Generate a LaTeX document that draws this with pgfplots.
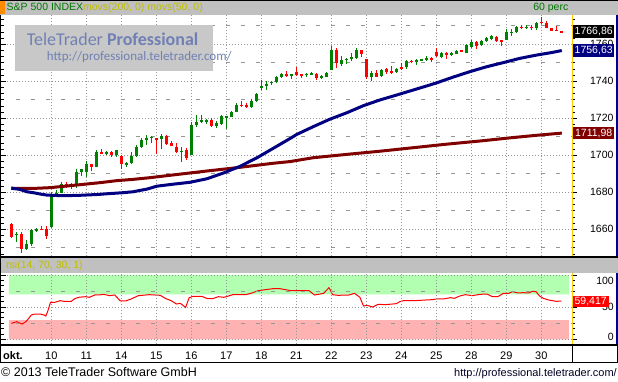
\documentclass[border=0pt]{standalone}
\usepackage{pgfplots}
\pgfplotsset{compat=1.18}
\usepackage{pgfplotstable}
\usepackage{fontspec}
\setmainfont{Liberation Sans}
\newfontfamily\wmfont{Carlito}

\definecolor{upc}{RGB}{0,128,0}
\definecolor{dnc}{RGB}{255,0,0}
\definecolor{maA}{RGB}{0,0,128}
\definecolor{maB}{RGB}{128,0,0}
\definecolor{barbg}{RGB}{192,192,192}
\definecolor{titlegreen}{RGB}{0,120,0}
\definecolor{olivet}{RGB}{190,190,0}
\definecolor{gridc}{RGB}{150,150,150}
\definecolor{wmtext}{RGB}{112,128,180}
\definecolor{wmbox}{RGB}{200,200,200}
\definecolor{rsigreen}{RGB}{178,255,178}
\definecolor{rsired}{RGB}{255,178,178}
\definecolor{sepyellow}{RGB}{255,204,0}
\definecolor{edgeblue}{RGB}{0,0,150}
\definecolor{orangetab}{RGB}{255,140,0}

% hourly OHLC bars, index 0 = last bar of 8 Oct, 8 = first bar of 10 Oct
\pgfplotstableread{
i o h l c
0 1662.9 1663.4 1655.5 1656.0
1 1657.0 1658.5 1653.3 1657.5
2 1657.4 1658.3 1647.0 1649.1
3 1649.1 1654.1 1648.7 1651.9
4 1651.9 1660.0 1651.0 1659.5
5 1659.5 1660.9 1658.5 1660.0
6 1660.2 1662.0 1659.6 1659.8
7 1660.0 1662.0 1654.6 1656.4
8 1661.4 1680.0 1660.9 1678.9
9 1679.2 1681.2 1677.3 1679.6
10 1679.8 1685.8 1679.4 1684.7
11 1684.7 1685.8 1682.1 1683.0
12 1684.0 1685.3 1682.0 1683.6
13 1683.8 1692.6 1682.5 1691.0
14 1691.0 1692.8 1689.0 1692.6
15 1691.0 1697.0 1688.4 1695.5
16 1695.3 1695.5 1691.7 1693.8
17 1693.8 1702.9 1693.6 1701.6
18 1701.8 1703.2 1700.5 1700.7
19 1700.8 1702.5 1700.3 1701.6
20 1701.8 1702.5 1698.9 1700.0
21 1700.3 1703.0 1698.9 1702.9
22 1699.8 1700.0 1692.4 1695.3
23 1695.3 1696.5 1693.8 1695.7
24 1696.0 1701.6 1695.5 1699.8
25 1699.8 1705.6 1699.3 1704.5
26 1704.5 1709.4 1703.8 1708.3
27 1708.6 1711.0 1705.6 1709.2
28 1709.6 1710.4 1706.8 1709.9
29 1709.2 1709.3 1700.7 1708.6
30 1708.8 1711.5 1703.6 1710.4
31 1710.4 1710.8 1705.7 1706.1
32 1706.5 1707.7 1705.0 1705.2
33 1704.3 1706.6 1701.4 1702.0
34 1701.8 1704.3 1696.2 1702.4
35 1702.9 1703.8 1697.6 1698.4
36 1700.2 1718.2 1700.0 1716.4
37 1716.2 1721.8 1715.5 1718.0
38 1718.0 1721.8 1717.3 1719.1
39 1718.6 1719.6 1717.0 1718.9
40 1719.1 1720.0 1715.5 1716.0
41 1716.0 1718.5 1714.9 1717.6
42 1716.9 1721.8 1716.4 1721.2
43 1720.8 1721.5 1714.2 1721.1
44 1720.9 1724.0 1720.5 1723.6
45 1723.6 1728.1 1723.2 1727.2
46 1727.2 1729.4 1726.3 1726.8
47 1727.0 1728.1 1725.4 1726.4
48 1726.3 1730.2 1725.7 1729.5
49 1729.2 1733.8 1728.6 1733.3
50 1736.2 1740.7 1735.3 1737.6
51 1737.6 1740.3 1735.3 1738.8
52 1739.2 1740.3 1738.0 1739.6
53 1739.6 1742.8 1739.2 1742.1
54 1742.1 1744.3 1741.9 1743.9
55 1743.9 1745.4 1742.1 1742.8
56 1742.9 1743.9 1741.2 1743.8
57 1745.2 1747.9 1743.0 1743.4
58 1743.6 1743.8 1741.6 1743.3
59 1743.6 1744.5 1742.5 1743.9
60 1744.1 1745.0 1743.8 1744.3
61 1743.9 1744.3 1740.7 1741.6
62 1741.6 1743.4 1741.0 1742.9
63 1742.5 1744.9 1742.1 1744.5
64 1746.1 1759.1 1746.0 1756.9
65 1756.9 1757.8 1747.4 1749.7
66 1749.2 1753.7 1748.3 1751.5
67 1751.8 1752.8 1749.4 1752.2
68 1752.0 1755.5 1751.1 1752.9
69 1752.4 1758.2 1752.0 1756.9
70 1756.9 1757.0 1753.3 1754.6
71 1752.1 1752.2 1741.0 1742.5
72 1742.3 1745.6 1740.2 1744.5
73 1744.3 1746.1 1742.1 1742.5
74 1743.0 1746.6 1742.5 1746.1
75 1746.5 1747.0 1743.9 1745.2
76 1745.2 1748.5 1743.9 1744.9
77 1744.9 1747.0 1744.5 1746.5
78 1747.6 1750.1 1746.1 1746.7
79 1747.6 1751.5 1746.7 1751.2
80 1751.2 1751.3 1750.0 1750.4
81 1750.7 1752.3 1748.8 1751.7
82 1751.5 1752.3 1750.8 1751.8
83 1751.5 1753.9 1750.8 1752.8
84 1752.8 1753.3 1750.6 1751.7
85 1756.0 1758.2 1753.3 1753.9
86 1753.3 1756.0 1752.8 1755.5
87 1755.5 1756.0 1752.1 1754.2
88 1754.6 1756.0 1753.9 1754.9
89 1755.0 1756.9 1754.6 1756.4
90 1756.8 1757.1 1755.6 1756.4
91 1755.5 1760.0 1755.1 1759.6
92 1758.7 1762.3 1757.8 1761.2
93 1761.4 1762.0 1757.6 1759.3
94 1759.6 1762.5 1759.3 1762.0
95 1762.0 1763.8 1761.4 1763.4
96 1763.0 1764.8 1762.5 1764.5
97 1763.9 1764.3 1761.4 1761.8
98 1762.1 1762.5 1759.3 1761.9
99 1762.5 1768.1 1762.1 1766.5
100 1766.2 1768.1 1764.7 1766.8
101 1766.5 1769.9 1766.1 1769.3
102 1769.4 1770.3 1768.3 1769.0
103 1769.1 1770.4 1768.3 1769.5
104 1769.4 1770.4 1767.9 1769.0
105 1768.6 1772.3 1767.7 1771.7
106 1772.0 1774.9 1770.8 1771.6
107 1771.5 1772.5 1768.6 1769.0
108 1768.6 1769.0 1767.2 1767.2
109 1767.8 1769.7 1767.2 1767.3
110 1767.0 1767.2 1766.3 1766.86
}\candles

\begin{document}
\begin{tikzpicture}[x=1pt,y=1pt]
\useasboundingbox (0,0) rectangle (618,381);
\fill[white] (0,0) rectangle (618,381);
% top title bar
\fill[barbg] (0,366) rectangle (618,381);
\fill[black] (0,380.3) rectangle (618,381);
\fill[orangetab] (0,367) rectangle (5,380.3);
% rsi title bar and separators
\fill[barbg] (0,108) rectangle (618,123);
\fill[black] (0,123) rectangle (618,125);
\fill[black] (0,35) rectangle (618,37);
\fill[black] (0,18) rectangle (618,19);

% ---------------- main price panel ----------------
\begin{axis}[
  at={(1pt,125pt)}, anchor=south west,
  width=571pt, height=241pt, scale only axis,
  xmin=-2.06, xmax=112.14, ymin=1645.57, ymax=1775.84,
  clip mode=individual,
  axis line style={draw=none},
  xtick={8,15,...,106}, xticklabels={},
  major x tick style={draw=none},
  xmajorgrids, ymajorgrids,
  major grid style={gridc, line width=0.8pt, dash pattern=on 1pt off 2pt},
  ytick={1660,1680,...,1760},
  minor ytick={1646.6667,1650,...,1775},
  extra y ticks={1650,1670,...,1770}, extra y tick labels={},
  extra y tick style={grid=major, major tick length=0pt,
     major grid style={gridc, line width=0.8pt, dash pattern=on 3.5pt off 11.5pt}},
  ytick pos=right, tick align=outside,
  major tick length=5pt, minor tick length=3pt,
  tick style={black, line width=0.8pt},
  yticklabel style={font=\fontsize{10.5}{12}\selectfont, anchor=east, xshift=40pt},
  /pgf/number format/assume math mode=true,
  /pgf/number format/1000 sep={},
]
% wicks
\addplot[draw=none, mark=none, restrict expr to domain={\thisrow{c}-\thisrow{o}}{0:1000},
  error bars/.cd, y dir=both, y explicit, error mark=none,
  error bar style={draw=upc, line width=1pt}]
  table[x=i, y expr={(\thisrow{h}+\thisrow{l})/2}, y error expr={(\thisrow{h}-\thisrow{l})/2}] {\candles};
\addplot[draw=none, mark=none, restrict expr to domain={\thisrow{c}-\thisrow{o}}{-1000:0},
  error bars/.cd, y dir=both, y explicit, error mark=none,
  error bar style={draw=dnc, line width=1pt}]
  table[x=i, y expr={(\thisrow{h}+\thisrow{l})/2}, y error expr={(\thisrow{h}-\thisrow{l})/2}] {\candles};
% bodies
\addplot[draw=none, mark=none, restrict expr to domain={\thisrow{c}-\thisrow{o}}{0:1000},
  error bars/.cd, y dir=both, y explicit, error mark=none,
  error bar style={draw=upc, line width=3pt}]
  table[x=i, y expr={(\thisrow{o}+\thisrow{c})/2}, y error expr={max(abs(\thisrow{c}-\thisrow{o})/2,0.28)}] {\candles};
\addplot[draw=none, mark=none, restrict expr to domain={\thisrow{c}-\thisrow{o}}{-1000:0},
  error bars/.cd, y dir=both, y explicit, error mark=none,
  error bar style={draw=dnc, line width=3pt}]
  table[x=i, y expr={(\thisrow{o}+\thisrow{c})/2}, y error expr={max(abs(\thisrow{c}-\thisrow{o})/2,0.28)}] {\candles};
% movs(200)
\addplot[maB, line width=3pt, mark=none] coordinates {
(0,1682.2) (4.4,1682.1) (7.7,1682.5) (11.1,1683.4) (14.4,1684.3) (17.7,1685.2)
(21.1,1686.3) (24.4,1687.0) (27.7,1687.9) (32.4,1689.4) (39.1,1691.5) (45.7,1693.5)
(52.4,1695.7) (55.7,1696.6) (60.4,1698.7) (67.1,1700.5) (73.7,1702.2) (80,1704.0)
(87,1706.0) (94,1707.8) (100,1709.5) (105,1710.8) (110.1,1712.0)};
% movs(50)
\addplot[maA, line width=3pt, mark=none] coordinates {
(0,1682.2) (1.7,1681.6) (3.1,1680.3) (4.4,1679.8) (5.7,1679.1) (7.1,1678.5)
(9.7,1678.2) (13.1,1678.3) (17.1,1678.8) (19.1,1679.2) (22.4,1679.8) (24.4,1680.3)
(25.7,1681.0) (27.1,1681.7) (29.1,1683.3) (32.4,1684.4) (35.7,1685.4) (39.1,1687.3)
(42.4,1690.4) (45.7,1694.0) (49.1,1698.6) (52.4,1703.8) (55.7,1709.0) (57.1,1711.3)
(60.4,1715.5) (63.7,1719.5) (67.1,1723.0) (70.4,1726.8) (73.7,1729.9) (77.1,1732.6)
(80.4,1735.3) (83.7,1738.0) (85.1,1739.2) (88.4,1742.3) (91.7,1745.2) (95.1,1747.9)
(98.4,1750.1) (101.7,1752.4) (105.1,1754.2) (108.4,1755.7) (110.1,1756.63)};
\coordinate (tagA) at (axis cs:112.14,1766.86);
\coordinate (tagB) at (axis cs:112.14,1756.63);
\coordinate (tagC) at (axis cs:112.14,1711.98);
\end{axis}

% left inner ticks of price panel
\begin{axis}[
  at={(1pt,125pt)}, anchor=south west,
  width=571pt, height=241pt, scale only axis,
  xmin=-2.06, xmax=112.14, ymin=1645.57, ymax=1775.84,
  axis line style={draw=none}, xtick=\empty,
  ytick={1660,1680,...,1760}, yticklabels={},
  minor ytick={1646.6667,1650,...,1775},
  ytick pos=left, tick align=inside,
  major tick length=5pt, minor tick length=3pt,
  tick style={black, line width=0.8pt},
]
\end{axis}

% ---------------- RSI panel ----------------
\begin{axis}[
  at={(1pt,37pt)}, anchor=south west,
  width=571pt, height=71pt, scale only axis,
  xmin=-2.06, xmax=112.14, ymin=-7.3, ymax=103.1,
  clip mode=individual, axis on top,
  axis line style={draw=none},
  xtick={8,15,...,106},
  xticklabels={10,11,14,15,16,17,18,21,22,23,24,25,28,29,30},
  extra x ticks={0.34}, extra x tick labels={\textbf{okt.}},
  extra x tick style={grid=none},
  major x tick style={draw=none},
  xticklabel style={font=\fontsize{11}{13}\selectfont, anchor=base, yshift=-10.5pt},
  xmajorgrids, ymajorgrids,
  major grid style={gridc, line width=0.8pt, dash pattern=on 1pt off 2pt},
  ytick={0,50,100}, yticklabels={},
  minor ytick={0,8.3333,...,100},
  extra y ticks={25,75}, extra y tick labels={},
  extra y tick style={grid=major, major tick length=0pt,
     major grid style={gridc, line width=0.8pt, dash pattern=on 3.5pt off 11.5pt}},
  ytick pos=right, tick align=outside,
  major tick length=5pt, minor tick length=3pt,
  tick style={black, line width=0.8pt},
]
\addplot[fill=rsigreen, draw=none] coordinates {(-0.5,70) (111.5,70) (111.5,100) (-0.5,100) (-0.5,70)};
\addplot[fill=rsired, draw=none] coordinates {(-0.5,0) (111.5,0) (111.5,30) (-0.5,30) (-0.5,0)};
\addplot[dnc, line width=1pt, mark=none] coordinates {
(0,24.8) (1.09,27.4) (1.82,24.8) (2.18,23.8) (2.9,27.4) (3.49,32.6) (3.99,37.8) (4.72,39.3)
(5.81,39.3) (6.54,37.8) (6.9,36.2) (7.26,43.0) (7.84,57.5) (8.71,57.5) (9.80,60.1) (10.53,59.0)
(11.98,59.0) (12.71,63.2) (13.43,65.3) (14.89,66.3) (15.61,65.3) (16.70,68.9) (17.43,68.9)
(18.52,69.9) (19.61,67.9) (20.70,68.9) (21.79,59.6) (22.88,59.6) (23.97,62.7) (25.42,67.9)
(27.6,69.4) (29.8,68.4) (30.9,63.2) (31.95,60.1) (33.04,54.9) (33.77,56.0) (34.86,49.7)
(35.58,64.7) (36.31,66.8) (38.13,66.8) (39.22,63.2) (40.31,63.2) (41.39,66.3) (42.48,65.3)
(43.21,66.8) (44.3,69.4) (45.75,69.4) (46.84,69.4) (47.93,71.5) (49.38,75.6) (50.84,77.2)
(52.29,78.7) (53.74,78.7) (55.19,76.7) (55.92,75.6) (59.55,75.6) (60.64,68.9) (61.73,70.4)
(62.45,71.5) (63.54,80.3) (64.27,69.4) (65.36,68.4) (67.54,68.9) (68.63,71.5) (69.72,65.3)
(70.44,51.8) (71.17,52.8) (72.26,50.2) (73.35,54.4) (74.8,53.9) (76.98,55.4) (77.7,58.5)
(78.43,60.1) (80.61,60.1) (84.24,61.7) (84.97,62.7) (86.42,62.7) (87.87,64.8) (88.6,63.7)
(89.69,67.3) (90.78,69.4) (92.23,67.9) (93.68,69.9) (95.13,70.4) (96.22,66.3) (97.31,66.3)
(98.4,71.5) (99.49,71.5) (100.22,74.1) (101.31,72.1) (102.4,72.5) (103.49,72.1) (104.21,74.6)
(104.94,74.1) (105.66,67.3) (106.39,63.7) (107.48,61.1) (108.93,59.1) (110,59.417)};
\coordinate (tagR) at (axis cs:112.14,59.417);
\end{axis}

% left inner ticks of RSI panel
\begin{axis}[
  at={(1pt,37pt)}, anchor=south west,
  width=571pt, height=71pt, scale only axis,
  xmin=-2.06, xmax=112.14, ymin=-7.3, ymax=103.1,
  axis line style={draw=none}, xtick=\empty,
  ytick={0,50,100}, yticklabels={},
  minor ytick={0,8.3333,...,100},
  ytick pos=left, tick align=inside,
  major tick length=5pt, minor tick length=3pt,
  tick style={black, line width=0.8pt},
]
\end{axis}

% frame lines
\fill[black] (0,19) rectangle (1,366);
\fill[sepyellow] (572,125) rectangle (573,366);
\fill[sepyellow] (572,37) rectangle (573,108);
\fill[edgeblue] (616,125) rectangle (618,366);
\fill[edgeblue] (616,37) rectangle (618,108);
\fill[black] (571.5,19) rectangle (572.5,35);
\fill[black] (617,19) rectangle (618,35);

% RSI scale labels
\node[anchor=east, inner sep=0pt, font=\fontsize{10.5}{12}\selectfont] at (614,100) {100};
\node[anchor=east, inner sep=0pt, font=\fontsize{10.5}{12}\selectfont] at (614,74) {50};
\node[anchor=east, inner sep=0pt, font=\fontsize{10.5}{12}\selectfont] at (614,44) {0};

% value tags
\node[fill=black, text=white, anchor=west, minimum width=41pt, minimum height=13pt, inner sep=0pt,
  font=\fontsize{10.5}{12}\selectfont] at ([xshift=1pt]tagA) {1766,86};
\node[fill=maA, text=white, anchor=west, minimum width=41pt, minimum height=13pt, inner sep=0pt,
  font=\fontsize{10.5}{12}\selectfont] at ([xshift=1pt]tagB) {1756,63};
\node[fill=maB, text=white, anchor=west, minimum width=41pt, minimum height=12pt, inner sep=0pt,
  font=\fontsize{10.5}{12}\selectfont] at ([xshift=1pt]tagC) {1711,98};
\node[fill=dnc, text=white, anchor=west, minimum width=36pt, minimum height=11pt, inner sep=0pt,
  font=\fontsize{10.5}{12}\selectfont] at ([xshift=0.5pt]tagR) {59,417};

% watermark
\fill[wmbox] (15,310) rectangle (213,356);
\node[anchor=base west, inner sep=0pt, text=wmtext, font=\wmfont\fontsize{18}{20}\selectfont]
  at (26.7,335.3) {TeleTrader \textbf{Professional}};
\node[anchor=base west, inner sep=0pt, text=wmtext, font=\wmfont\fontsize{13}{15}\selectfont]
  at (46.7,320.3) {http://professional.teletrader.com/};

% titles
\node[anchor=base west, inner sep=0pt, font=\fontsize{10.5}{12}\selectfont] at (6.5,370)
  {\textcolor{titlegreen}{S\&P 500 INDEX}\textcolor{olivet}{movs(200, 0) movs(50, 0)}};
\node[anchor=base east, inner sep=0pt, font=\fontsize{10.5}{12}\selectfont, text=titlegreen] at (568.5,370) {60 perc};
\node[anchor=base west, inner sep=0pt, font=\fontsize{10.5}{12}\selectfont, text=olivet] at (6,112.5) {rsi(14, 70, 30, 1)};

% footer
\node[anchor=base west, inner sep=0pt, font=\fontsize{12.5}{14}\selectfont] at (1,5) {© 2013 TeleTrader Software GmbH};
\node[anchor=base east, inner sep=0pt, font=\fontsize{11}{13}\selectfont, text=black!85!blue] at (617,5) {http://professional.teletrader.com/};
\end{tikzpicture}
\end{document}
